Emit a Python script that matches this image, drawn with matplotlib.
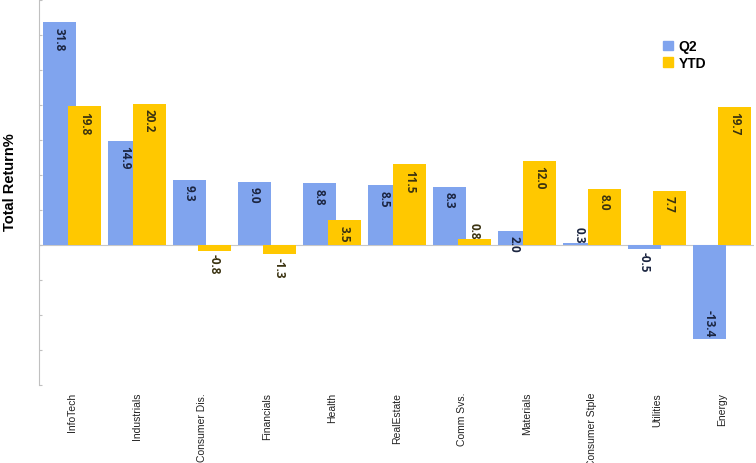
import matplotlib
matplotlib.use("Agg")
import matplotlib.pyplot as plt
import numpy as np
from matplotlib.patches import Patch

# ── data ──────────────────────────────────────────────────────────────────────
sectors = ["InfoTech", "Industrials", "Consumer Dis.", "Financials", "Health",
           "RealEstate", "Comm Svs.", "Materials", "Consumer Stple", "Utilities",
           "Energy"]
q2 = [31.8, 14.9, 9.3, 9.0, 8.8, 8.5, 8.3, 2.0, 0.3, -0.5, -13.4]
ytd = [19.8, 20.2, -0.8, -1.3, 3.5, 11.5, 0.8, 12.0, 8.0, 7.7, 19.7]

BLUE = "#80A4EE"
GOLD = "#FFC800"


def _label_bars(ax, xs, vals, color):
    for x, v in zip(xs, vals):
        txt = f"{v:.1f}"
        if abs(v) > 1.5:
            # inside end
            if v > 0:
                y, va = v - 0.6, "top"
            else:
                y, va = v + 0.4, "bottom"
        else:
            # outside end
            if v > 0:
                y, va = v + 0.1, "bottom"
            else:
                y, va = v - 0.4, "top"
        ax.text(x, y, txt, rotation=270, ha="center", va=va,
                fontsize=8.5, fontweight="bold", color=color,
                family=["Open Sans", "DejaVu Sans"])


fig = plt.figure(figsize=(7.56, 4.64), dpi=100)
ax = fig.add_axes([0.052, 0.168, 0.946, 0.830])

x = np.arange(len(sectors))
w = 0.51
off = 0.192
ax.bar(x - off, q2, width=w, color=BLUE, zorder=2)
ax.bar(x + off, ytd, width=w, color=GOLD, zorder=3)

_label_bars(ax, x - off, q2, "#1B2540")
_label_bars(ax, x + off, ytd, "#3A3210")

ax.axhline(0, color="#C8C8C8", linewidth=0.8, zorder=1)

ax.set_xlim(-0.5, 10.5)
ax.set_ylim(-20, 35)
ax.set_yticks(np.arange(-20, 36, 5))
ax.set_yticklabels([])
ax.tick_params(axis="y", direction="in", length=2.5, color="#C0C0C0", width=0.8)

ax.set_xticks(x)
ax.set_xticklabels(sectors, rotation=90, fontsize=7.5, family="Liberation Sans",
                   color="#222222", va="top")
ax.tick_params(axis="x", length=0, pad=5)

for s in ("top", "right", "bottom"):
    ax.spines[s].set_visible(False)
ax.spines["left"].set_color("#C0C0C0")
ax.spines["left"].set_linewidth(0.8)

ax.set_ylabel("Total Return%", fontsize=10.5, fontweight="bold",
              family="Liberation Sans")
ax.yaxis.set_label_coords(-0.031, 0.53)

handles = [Patch(color=BLUE, label="Q2"), Patch(color=GOLD, label="YTD")]
leg = ax.legend(handles=handles, loc="upper left", bbox_to_anchor=(0.855, 0.93),
                frameon=False, handlelength=0.7, handleheight=0.7,
                handletextpad=0.4, labelspacing=0.2,
                prop={"family": "Liberation Sans", "weight": "bold", "size": 10})

fig.savefig("out.png", dpi=100)
